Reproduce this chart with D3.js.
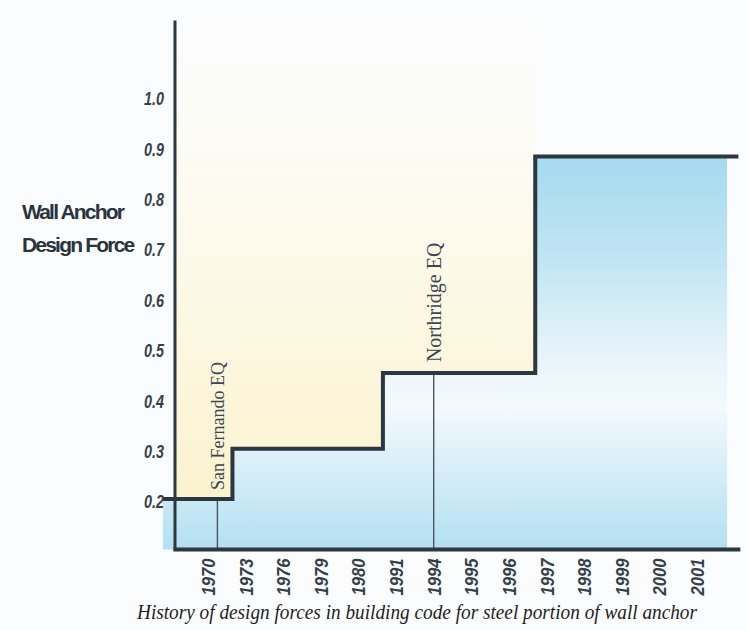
<!DOCTYPE html>
<html>
<head>
<meta charset="utf-8">
<script src="https://cdn.jsdelivr.net/npm/d3@7"></script>
<style>
  body { margin: 0; background: #fbfcfd; }
  svg { display: block; }
  .tick-label { font-family: "Liberation Sans", Arial, sans-serif; font-weight: bold; font-style: italic; fill: #34404a; }
  .axis-title { font-family: "Liberation Sans", Arial, sans-serif; font-weight: bold; fill: #2a343c; }
  .event-label { font-family: "Liberation Serif", "Times New Roman", serif; fill: #3a4650; }
  .caption { font-family: "Liberation Serif", "Times New Roman", serif; font-style: italic; fill: #1e1e1e; }
</style>
</head>
<body>
<svg id="chart" width="748" height="630"></svg>
<script>
// Data
const years = ['1970', '1973', '1976', '1979', '1980', '1991', '1994',
  '1995', '1996', '1997', '1998', '1999', '2000', '2001'];
const yTicks = [0.2, 0.3, 0.4, 0.5, 0.6, 0.7, 0.8, 0.9, 1.0];
// where the required force changes (in year-slot units) and the level after
const stepAt = [-1.2, 0.65, 4.65, 8.7];
const stepValues = [0.2, 0.3, 0.45, 0.88];
const lineEnd = 14.1;
const fillEnd = 13.8;
const events = [
  { label: 'San Fernando EQ', at: 0.25 },
  { label: 'Northridge EQ', at: 6 }
];

const svg = d3.select('#chart');
const axisX = 175;
const x = d3.scaleLinear().domain([0, years.length - 1]).range([208, 697]);
const y = d3.scaleLinear().domain([0.1, 1.0]).range([549.4, 96]);
const yMin = 0.1, yTop = 1.15;

// Gradients
const defs = svg.append('defs');
const blue = defs.append('linearGradient').attr('id', 'blueGrad')
  .attr('gradientUnits', 'userSpaceOnUse')
  .attr('x1', 0).attr('x2', 0).attr('y1', y(0.88)).attr('y2', y(yMin));
[[0, '#a6daef'], [0.25, '#bfe4f3'], [0.52, '#e9f5fa'], [0.64, '#f3f9fc'],
 [0.82, '#d3ecf7'], [1, '#b3e0f1']].forEach(([o, c]) =>
  blue.append('stop').attr('offset', o).attr('stop-color', c));

const yellow = defs.append('linearGradient').attr('id', 'yellowGrad')
  .attr('gradientUnits', 'userSpaceOnUse')
  .attr('x1', 0).attr('x2', 0).attr('y1', 60).attr('y2', y(0.2));
[[0, '#fbfcfb'], [0.4, '#fdfaec'], [1, '#fbf2cf']].forEach(([o, c]) =>
  yellow.append('stop').attr('offset', o).attr('stop-color', c));

const steps = stepAt.map((s, i) => ({ x: s, v: stepValues[i] }));

// Yellow region above the steps, left of the last riser
const yellowPts = [{ x: x.invert(axisX), v: 0.2 }, ...steps.slice(1, 3),
  { x: stepAt[3], v: stepValues[2] }];
svg.append('path')
  .datum(yellowPts)
  .attr('fill', 'url(#yellowGrad)')
  .attr('d', d3.area().curve(d3.curveStepAfter)
    .x(d => x(d.x)).y0(d => y(d.v)).y1(y(yTop)));

// Blue region under the steps
svg.append('path')
  .datum([...steps, { x: fillEnd, v: 0.88 }])
  .attr('fill', 'url(#blueGrad)')
  .attr('d', d3.area().curve(d3.curveStepAfter)
    .x(d => x(d.x)).y0(y(yMin)).y1(d => y(d.v)));

// Event marker lines
const levelAt = at => stepValues[d3.bisectRight(stepAt, at) - 1];
svg.selectAll('.event-line')
  .data(events)
  .join('line')
  .attr('class', 'event-line')
  .attr('x1', d => x(d.at)).attr('x2', d => x(d.at))
  .attr('y1', d => y(levelAt(d.at)))
  .attr('y2', y(yMin))
  .attr('stroke', '#4a5660').attr('stroke-width', 1.4);

svg.selectAll('.event-label')
  .data(events)
  .join('text')
  .attr('class', 'event-label')
  .attr('font-size', (d, i) => i === 0 ? 18 : 20)
  .attr('transform', (d, i) =>
    `translate(${x(d.at) + 7},${y(levelAt(d.at)) - (i === 0 ? 9 : 11)}) rotate(-90)`)
  .text(d => d.label);

// Step line
svg.append('path')
  .datum([...steps, { x: lineEnd, v: 0.88 }])
  .attr('fill', 'none')
  .attr('stroke', '#2c3740')
  .attr('stroke-width', 4)
  .attr('d', d3.line().curve(d3.curveStepAfter).x(d => x(d.x)).y(d => y(d.v)));

// Axis lines
svg.append('line')
  .attr('x1', axisX).attr('x2', axisX)
  .attr('y1', y(yTop)).attr('y2', y(yMin) + 1.5)
  .attr('stroke', '#2c3740').attr('stroke-width', 3);
svg.append('line')
  .attr('x1', axisX - 1.5).attr('x2', x(lineEnd) + 2)
  .attr('y1', y(yMin)).attr('y2', y(yMin))
  .attr('stroke', '#2c3740').attr('stroke-width', 4);

// Y tick labels (condensed look)
const yAxisG = svg.append('g')
  .attr('transform', `translate(${axisX - 11},3)`)
  .call(d3.axisLeft(y).tickValues(yTicks).tickSize(0).tickPadding(0)
    .tickFormat(d3.format('.1f')));
yAxisG.select('.domain').remove();
yAxisG.selectAll('text')
  .attr('class', 'tick-label')
  .attr('font-size', 18)
  .attr('textLength', 20)
  .attr('lengthAdjust', 'spacingAndGlyphs');

// X tick labels
const xAxisG = svg.append('g')
  .attr('transform', `translate(0,${y(yMin)})`)
  .call(d3.axisBottom(x).tickValues(d3.range(years.length)).tickSize(0)
    .tickFormat(i => years[i]));
xAxisG.select('.domain').remove();
xAxisG.selectAll('text')
  .attr('class', 'tick-label')
  .attr('font-size', 18)
  .attr('textLength', 37)
  .attr('lengthAdjust', 'spacingAndGlyphs')
  .attr('text-anchor', 'end')
  .attr('dy', null)
  .attr('y', null)
  .attr('transform', 'translate(6.5,9) rotate(-90)');

// Axis title
svg.append('g').selectAll('text')
  .data(['Wall Anchor', 'Design Force'])
  .join('text')
  .attr('class', 'axis-title')
  .attr('x', 22)
  .attr('y', (d, i) => 219 + i * 33)
  .attr('font-size', 21)
  .attr('letter-spacing', -1.8)
  .text(d => d);

// Caption
svg.append('text')
  .attr('class', 'caption')
  .attr('x', 417)
  .attr('y', 619)
  .attr('text-anchor', 'middle')
  .attr('font-size', 20)
  .attr('textLength', 560)
  .attr('lengthAdjust', 'spacingAndGlyphs')
  .text('History of design forces in building code for steel portion of wall anchor');
</script>
</body>
</html>
